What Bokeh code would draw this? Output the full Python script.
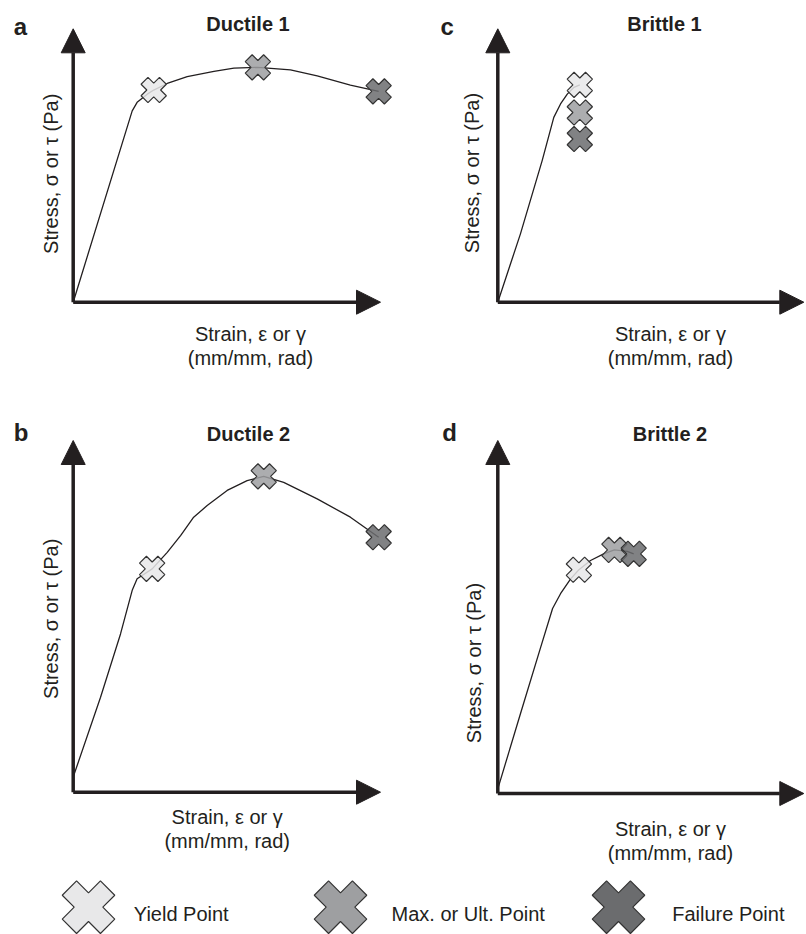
import math
from bokeh.plotting import figure
from bokeh.layouts import column, row
from bokeh.models import Range1d, Arrow, NormalHead, Label
from bokeh.embed import file_html
from bokeh.resources import INLINE

# ---------------- data (arbitrary units: 1 = tip of the axis arrow) ----------------
ductile1_strain = [0.0, 0.192, 0.208, 0.241, 0.262, 0.306, 0.371, 0.458, 0.523, 0.601, 0.707, 0.794, 0.902, 0.994]
ductile1_stress = [0.0, 0.700, 0.731, 0.761, 0.776, 0.800, 0.825, 0.844, 0.856, 0.859, 0.850, 0.828, 0.794, 0.771]
ductile1_pts_strain = [0.262, 0.601, 0.994]
ductile1_pts_stress = [0.776, 0.859, 0.771]

ductile2_strain = [0.0, 0.089, 0.154, 0.192, 0.208, 0.257, 0.306, 0.350, 0.392, 0.436, 0.501, 0.566, 0.620, 0.685, 0.794, 0.902, 0.994]
ductile2_stress = [0.043, 0.270, 0.450, 0.574, 0.607, 0.635, 0.682, 0.730, 0.782, 0.815, 0.858, 0.886, 0.898, 0.881, 0.834, 0.782, 0.725]
ductile2_pts_strain = [0.257, 0.620, 0.994]
ductile2_pts_stress = [0.635, 0.898, 0.725]

brittle1_strain = [0.0, 0.074, 0.145, 0.183, 0.205, 0.227, 0.249, 0.268]
brittle1_stress = [0.0, 0.250, 0.518, 0.676, 0.725, 0.761, 0.786, 0.795]
brittle1_pts_strain = [0.268, 0.268, 0.268]
brittle1_pts_stress = [0.795, 0.694, 0.597]

brittle2_strain = [0.0, 0.074, 0.140, 0.179, 0.205, 0.238, 0.265, 0.303, 0.346, 0.381, 0.423, 0.444]
brittle2_stress = [0.013, 0.226, 0.414, 0.524, 0.566, 0.608, 0.634, 0.660, 0.679, 0.690, 0.686, 0.679]
brittle2_pts_strain = [0.265, 0.381, 0.444]
brittle2_pts_stress = [0.634, 0.690, 0.679]

point_names = ["Yield Point", "Max. or Ult. Point", "Failure Point"]
point_fills = ["#e8e8e9", "#9e9fa1", "#6b6c6e"]

titles = {"a": "Ductile 1", "b": "Ductile 2", "c": "Brittle 1", "d": "Brittle 2"}
x_label_lines = ["Strain, ε or γ", "(mm/mm, rad)"]
y_label = "Stress, σ or τ (Pa)"

# ---------------- style ----------------
INK = "#231f20"
FONT = "Liberation Sans"
MARK_LINE = "#333333"


def panel(letter, strain, stress, pts_x, pts_y, W, H, ox, oy, tipx, tipy,
          letter_x, letter_base, title_cx, title_base, ylab_x, ylab_cy,
          xlab_cx, xlab_base):
    Lx = tipx - ox
    Ly = oy - tipy
    p = figure(width=W, height=H,
               x_range=Range1d(-ox / Lx, (W - ox) / Lx),
               y_range=Range1d(-(H - oy) / Ly, oy / Ly),
               output_backend="svg", toolbar_location=None,
               x_axis_location=None, y_axis_location=None,
               min_border=0, outline_line_color=None)
    p.grid.visible = False

    def X(px):
        return (px - ox) / Lx

    def Y(py):
        return (oy - py) / Ly

    # axes with arrow heads
    for xe, ye in [(1, 0), (0, 1)]:
        p.add_layout(Arrow(x_start=0, y_start=0, x_end=xe, y_end=ye,
                           line_width=3.5, line_color=INK,
                           end=NormalHead(size=24, fill_color=INK,
                                          line_color=INK, line_width=1)))

    p.line(strain, stress, line_color=INK, line_width=1.3)
    p.scatter(pts_x, pts_y, marker="plus", angle=math.pi / 4, size=26,
              fill_color=point_fills, fill_alpha=0.85,
              line_color=MARK_LINE, line_width=1.2)

    # texts
    p.add_layout(Label(x=X(letter_x), y=Y(letter_base), text=letter,
                       text_font=FONT, text_font_size="24px",
                       text_font_style="bold", text_color=INK,
                       text_align="left", text_baseline="alphabetic"))
    p.add_layout(Label(x=X(title_cx), y=Y(title_base), text=titles[letter],
                       text_font=FONT, text_font_size="20px",
                       text_font_style="bold", text_color=INK,
                       text_align="center", text_baseline="alphabetic"))
    p.add_layout(Label(x=X(ylab_x), y=Y(ylab_cy), text=y_label,
                       angle=math.pi / 2,
                       text_font=FONT, text_font_size="20px",
                       text_color=INK, text_align="center",
                       text_baseline="alphabetic"))
    for i, line_text in enumerate(x_label_lines):
        p.add_layout(Label(x=X(xlab_cx), y=Y(xlab_base + 24 * i), text=line_text,
                           text_font=FONT, text_font_size="20px",
                           text_color=INK, text_align="center",
                           text_baseline="alphabetic"))
    return p


pa = panel("a", ductile1_strain, ductile1_stress, ductile1_pts_strain, ductile1_pts_stress,
           W=420, H=380, ox=72.7, oy=301.7, tipx=380, tipy=28.3,
           letter_x=13.3, letter_base=26, title_cx=247.5, title_base=23.3,
           ylab_x=50.5, ylab_cy=173.3, xlab_cx=250, xlab_base=333.3)
pc = panel("c", brittle1_strain, brittle1_stress, brittle1_pts_strain, brittle1_pts_stress,
           W=386, H=380, ox=77.3, oy=301.7, tipx=383.3, tipy=28.3,
           letter_x=20, letter_base=26, title_cx=244, title_base=23.3,
           ylab_x=51.7, ylab_cy=172.5, xlab_cx=250, xlab_base=333.3)
pb = panel("b", ductile2_strain, ductile2_stress, ductile2_pts_strain, ductile2_pts_stress,
           W=420, H=490, ox=72.7, oy=411.7, tipx=380, tipy=60,
           letter_x=13.3, letter_base=51.7, title_cx=248, title_base=53.3,
           ylab_x=50.5, ylab_cy=238.3, xlab_cx=226.7, xlab_base=436.7)
pd_ = panel("d", brittle2_strain, brittle2_stress, brittle2_pts_strain, brittle2_pts_stress,
            W=386, H=490, ox=77.3, oy=413, tipx=383.3, tipy=60,
            letter_x=21.7, letter_base=51.7, title_cx=249.5, title_base=53.3,
            ylab_x=53, ylab_cy=282.5, xlab_cx=250, xlab_base=448.3)

# ---------------- legend strip ----------------
leg = figure(width=806, height=64, x_range=Range1d(0, 806), y_range=Range1d(64, 0),
             output_backend="svg", toolbar_location=None,
             x_axis_location=None, y_axis_location=None,
             min_border=0, outline_line_color=None)
leg.grid.visible = False
leg_marker_x = [88, 340, 618]
leg_text_x = [133.3, 391, 671.7]
leg.scatter(leg_marker_x, [36.7] * 3, marker="plus", angle=math.pi / 4, size=54,
            fill_color=point_fills, line_color=MARK_LINE, line_width=1.2)
for tx, name in zip(leg_text_x, point_names):
    leg.add_layout(Label(x=tx, y=43.3, text=name, text_font=FONT,
                         text_font_size="20px", text_color=INK,
                         text_align="left", text_baseline="alphabetic"))

layout = column(row(pa, pc), row(pb, pd_), leg)

open("out.html", "w").write(file_html(layout, INLINE))
